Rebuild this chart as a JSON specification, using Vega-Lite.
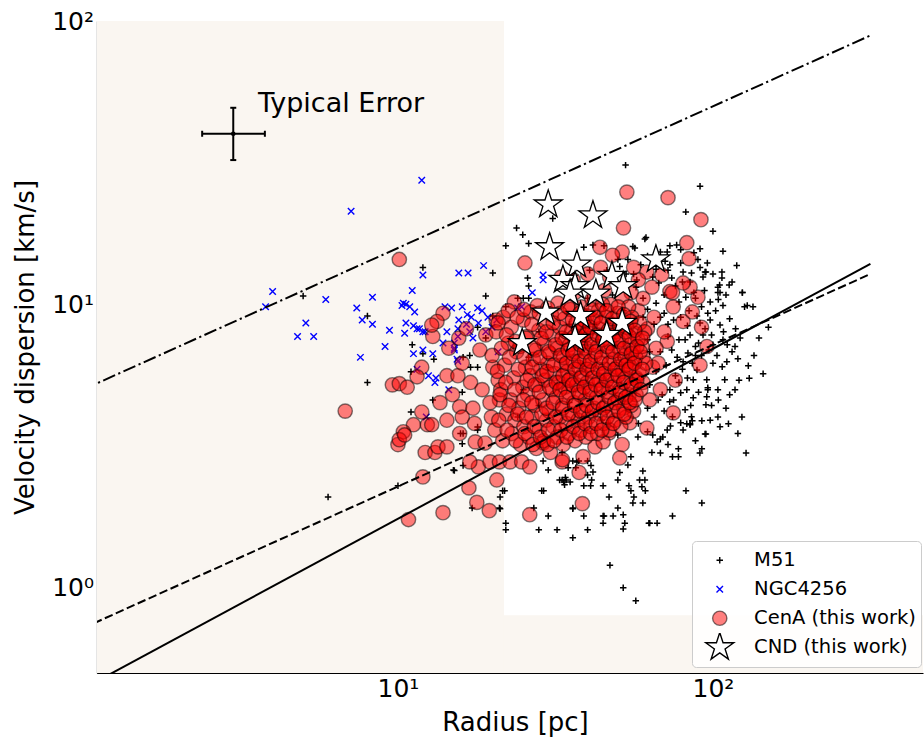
{
"$schema":"https://vega.github.io/schema/vega-lite/v6.json",
"autosize":{"type":"none"},
"width":826,"height":652,
"padding":{"left":97,"top":21,"right":1,"bottom":66},
"config":{"view":{"stroke":null},"font":"DejaVu Sans",
 "axis":{"grid":false,"zindex":1,"domainColor":"black","tickColor":"black","labelColor":"black","titleColor":"black","labelFont":"DejaVu Sans","titleFont":"DejaVu Sans","titleFontWeight":"normal"},
 "legend":{"orient":"none","legendX":595,"legendY":520,"labelFont":"DejaVu Sans","labelFontSize":19.5,"labelColor":"black","padding":5,"symbolOffset":13,"labelOffset":24.6,"rowPadding":0,"clipHeight":28.5,"symbolSize":866,"strokeColor":"#cccccc","fillColor":"rgba(255,255,255,0.85)","cornerRadius":4,"labelLimit":300}},
"datasets":{
"m51":[{"R":103.7,"V":4.0},{"R":123.6,"V":4.0},{"R":112,"V":3.79},{"R":127.4,"V":2.99},{"R":95,"V":3.49},{"R":92.2,"V":3.88},{"R":84.6,"V":3.79},{"R":86,"V":3.88},{"R":82.6,"V":3.79},{"R":80.4,"V":3.6},{"R":73.3,"V":3.72},{"R":71.6,"V":3.6},{"R":68.1,"V":3.35},{"R":66.5,"V":3.27},{"R":68.1,"V":2.99},{"R":74.4,"V":2.9},{"R":77.7,"V":2.9},{"R":77.7,"V":3.09},{"R":90.9,"V":2.99},{"R":92.2,"V":3.09},{"R":82.1,"V":2.2},{"R":92.2,"V":1.99},{"R":74.4,"V":1.79},{"R":62.6,"V":1.69},{"R":66.5,"V":1.69},{"R":59.9,"V":2.58},{"R":60.8,"V":2.4},{"R":58.5,"V":2.4},{"R":59.5,"V":2.27},{"R":61,"V":2.2},{"R":56.1,"V":2.09},{"R":59.9,"V":1.99},{"R":55.7,"V":1.99},{"R":54.9,"V":2.2},{"R":54.1,"V":2.29},{"R":50.6,"V":2.55},{"R":49.9,"V":2.4},{"R":53.7,"V":2.71},{"R":54.9,"V":2.9},{"R":57.8,"V":3.4},{"R":49.9,"V":1.91},{"R":51.9,"V":1.81},{"R":52.5,"V":1.69},{"R":51.9,"V":1.61},{"R":48.2,"V":1.79},{"R":44.8,"V":1.79},{"R":44.8,"V":1.69},{"R":46.8,"V":2.09},{"R":44.8,"V":2.29},{"R":40.9,"V":2.29},{"R":38.9,"V":2.29},{"R":41.2,"V":2.4},{"R":41.6,"V":2.56},{"R":35.9,"V":1.91},{"R":38.9,"V":1.79},{"R":40,"V":1.6},{"R":35.9,"V":1.5},{"R":47.1,"V":1.2},{"R":51.9,"V":1.0},{"R":56.9,"V":0.9},{"R":34.2,"V":2.4},{"R":33.6,"V":2.36},{"R":35.2,"V":2.36},{"R":37,"V":2.78},{"R":36.7,"V":2.65},{"R":34.7,"V":2.65},{"R":28.6,"V":2.2},{"R":30,"V":1.79},{"R":28,"V":1.6},{"R":32,"V":1.6},{"R":27,"V":1.91},{"R":22,"V":1.69},{"R":22,"V":1.6},{"R":21,"V":1.91},{"R":21.5,"V":2.2},{"R":17.2,"V":1.91},{"R":32.6,"V":2.4},{"R":33.8,"V":2.31},{"R":45.1,"V":1.79},{"R":63,"V":1.69},{"R":117.5,"V":5.0},{"R":103.7,"V":5.0},{"R":96.3,"V":5.0},{"R":144.3,"V":5.69},{"R":130.4,"V":5.49},{"R":95.6,"V":4.72},{"R":105.3,"V":3.7},{"R":95,"V":4.42},{"R":129.5,"V":6.07},{"R":120,"V":6.43},{"R":110.7,"V":6.27},{"R":107,"V":6.02},{"R":100,"V":6.2},{"R":117.5,"V":7.1},{"R":107.6,"V":7.5},{"R":105.3,"V":8.45},{"R":94.4,"V":8.2},{"R":128.5,"V":9.9},{"R":134,"V":9.8},{"R":124,"V":11},{"R":105.3,"V":11.0},{"R":107.6,"V":9.9},{"R":96.3,"V":9.3},{"R":91,"V":8.6},{"R":84.6,"V":7.8},{"R":81.6,"V":7.5},{"R":83.3,"V":6.74},{"R":80.4,"V":6.27},{"R":89,"V":5.87},{"R":86.6,"V":5.42},{"R":95.6,"V":5.42},{"R":96.3,"V":5.08},{"R":109,"V":5.42},{"R":82.6,"V":5.0},{"R":79,"V":4.88},{"R":86.6,"V":4.68},{"R":72.9,"V":4.53},{"R":81.6,"V":4.25},{"R":74.4,"V":4.01},{"R":85.5,"V":4.01},{"R":79,"V":3.82},{"R":94.4,"V":3.49},{"R":84.6,"V":3.76},{"R":69.3,"V":3.4},{"R":64.4,"V":3.46},{"R":62,"V":3.55},{"R":46.4,"V":3.82},{"R":44.4,"V":3.91},{"R":49.9,"V":3.46},{"R":105,"V":11.7},{"R":112.6,"V":11.7},
{"R":52.8,"V":31},{"R":91,"V":26.1},{"R":82,"V":21.2},{"R":100,"V":18.1},{"R":107.6,"V":15.4},{"R":61.3,"V":17.2},{"R":119,"V":13.7},{"R":91,"V":15.7},{"R":95,"V":13.0},{"R":91,"V":13.5},{"R":73,"V":16.1},{"R":76.7,"V":16.2},{"R":71.6,"V":15.3},{"R":56.5,"V":15.8},{"R":73,"V":13.8},{"R":72,"V":13.2},{"R":93,"V":12.5},{"R":106.8,"V":13},{"R":106.8,"V":12.4},{"R":124,"V":11.0},{"R":103.7,"V":11.5},{"R":103.7,"V":11.0},{"R":126,"V":9.8},{"R":85.5,"V":12.9},{"R":84.6,"V":12},{"R":80,"V":12},{"R":67.3,"V":11.9},{"R":64.4,"V":12.5},{"R":49.9,"V":14.4},{"R":50.6,"V":13.6},{"R":55.7,"V":16},{"R":23.8,"V":18.6},{"R":24.9,"V":17.6},{"R":26,"V":16.4},{"R":22,"V":16.1},{"R":20,"V":12.9},{"R":19,"V":10.7},{"R":22,"V":9.8},{"R":24,"V":10.5},{"R":25,"V":10.5},{"R":26,"V":10.5},{"R":25.8,"V":12.4},{"R":26,"V":11.6},{"R":31,"V":20.1},{"R":38.9,"V":15.9},{"R":41.6,"V":16.2},{"R":45.1,"V":16.1},{"R":60.8,"V":17.0},{"R":53.7,"V":14.4},{"R":68.1,"V":15.3},{"R":70.5,"V":14.2},{"R":79,"V":14.0},{"R":80.4,"V":13.0},{"R":89.6,"V":14.4},{"R":94.4,"V":13.0},{"R":38,"V":13.7},{"R":40.6,"V":13.2},{"R":35.9,"V":12.9},{"R":57.3,"V":12.2},
{"R":6.0,"V":2.09},{"R":8.0,"V":5.3},{"R":11.0,"V":4.17},{"R":10,"V":2.29},{"R":12.9,"V":4.6},{"R":15.0,"V":2.6},{"R":11,"V":5.78},{"R":15.1,"V":2.59},{"R":16.0,"V":3.22},{"R":16.1,"V":2.7},{"R":15.8,"V":3.5},{"R":17.9,"V":3.69},{"R":21.8,"V":2.2},{"R":21.1,"V":2.09},{"R":21.1,"V":1.9},{"R":35.9,"V":1.9},{"R":29,"V":2.2},{"R":33.2,"V":2.4},{"R":34,"V":2.45},{"R":33.2,"V":3.0},{"R":28.9,"V":2.8},{"R":30,"V":2.6},{"R":35.9,"V":2.8},{"R":37.5,"V":2.8},{"R":40,"V":2.8},{"R":41,"V":2.7},{"R":40,"V":2.5},{"R":5.0,"V":10.7},{"R":8.0,"V":9.1},{"R":11.1,"V":7.2},{"R":12.0,"V":6.7},{"R":13.0,"V":6.4},{"R":12.0,"V":13.5},{"R":17.9,"V":8.3},{"R":19,"V":7.6},{"R":20,"V":9.1},{"R":16.1,"V":6.5},{"R":16.9,"V":6.6},{"R":17,"V":6.0},{"R":17.9,"V":6.0},{"R":16,"V":4.9},{"R":16.1,"V":3.5},{"R":17.9,"V":3.6},
{"R":25,"V":5},{"R":30,"V":6},{"R":35,"V":4.5},{"R":40,"V":7},{"R":45,"V":5.5},{"R":50,"V":6.5},{"R":55,"V":8},{"R":60,"V":9},{"R":28,"V":8},{"R":33,"V":3.6},{"R":62,"V":7.5},{"R":65,"V":8.5},{"R":68,"V":6.8},{"R":70,"V":9.3},{"R":72,"V":7.7},{"R":75,"V":8.8},{"R":77,"V":6.5},{"R":66,"V":5.8},{"R":63,"V":5.2},{"R":69,"V":4.8},{"R":76,"V":5.6},{"R":78,"V":10.2},{"R":88,"V":10.5},{"R":84,"V":9.5},{"R":99,"V":7.8},{"R":102,"V":9.5},{"R":113,"V":8.9},{"R":115,"V":6.8},{"R":92,"V":6.6},{"R":88,"V":7.1},{"R":60,"V":10.5},{"R":57,"V":11.5},{"R":45,"V":9.8},{"R":48,"V":10.8},{"R":52,"V":9.5},{"R":42,"V":8.5},{"R":38,"V":6.2},{"R":32,"V":5.2},{"R":28,"V":4.4},{"R":26,"V":6.5},{"R":24,"V":4.0},{"R":44,"V":4.2},{"R":50,"V":4.6},{"R":55,"V":5.3},{"R":58,"V":6.1},{"R":35,"V":8.5},{"R":30,"V":9.8},{"R":40,"V":10.5},{"R":46,"V":13.2},{"R":53,"V":12.8},
{"R":58,"V":3.8},{"R":62,"V":4.3},{"R":65,"V":4.0},{"R":67,"V":4.6},{"R":70,"V":4.2},{"R":73,"V":5.0},{"R":75,"V":4.6},{"R":78,"V":5.3},{"R":80,"V":5.9},{"R":83,"V":5.5},{"R":86,"V":6.2},{"R":88,"V":6.6},{"R":90,"V":7.3},{"R":93,"V":7.8},{"R":97,"V":6.9},{"R":100,"V":7.2},{"R":103,"V":6.6},{"R":108,"V":8.0},{"R":111,"V":7.2},{"R":118,"V":8.2},{"R":122,"V":7.6},{"R":98,"V":10.2},{"R":94,"V":11.2},{"R":87,"V":11.0},{"R":82,"V":10.6},{"R":76,"V":11.6},{"R":70,"V":10.8},{"R":66,"V":10.1},{"R":62,"V":9.6},{"R":68,"V":9.0},{"R":72,"V":8.5},{"R":79,"V":9.0},{"R":83,"V":8.4},{"R":89,"V":9.1},{"R":92,"V":9.8},{"R":98,"V":8.8},{"R":104,"V":10.4},{"R":110,"V":10.8},{"R":115,"V":12.0},{"R":100,"V":12.8},{"R":96,"V":14.0},{"R":87,"V":15.2},{"R":79,"V":15.6},{"R":67,"V":14.0},{"R":62,"V":14.8},{"R":74,"V":12.4},{"R":66,"V":13.3},{"R":59,"V":13.8},{"R":56,"V":12.8},{"R":63,"V":6.8},{"R":71,"V":6.1},{"R":74,"V":6.9},{"R":78,"V":7.5},{"R":85,"V":4.4},{"R":90,"V":4.9},{"R":99,"V":4.4},{"R":104,"V":4.6},{"R":113,"V":4.8},{"R":121,"V":5.4},{"R":135,"V":6.6},{"R":140,"V":7.6},{"R":150,"V":8.3},{"R":64,"V":3.0},{"R":72,"V":3.2},{"R":88,"V":3.3},{"R":98,"V":3.9},{"R":110,"V":4.3},{"R":120,"V":3.5}],
"ngc":[{"R":11.9,"V":27.4},{"R":7.1,"V":21.3},{"R":4.0,"V":11.1},{"R":3.8,"V":9.8},{"R":5.1,"V":8.6},{"R":4.8,"V":7.7},{"R":5.4,"V":7.7},{"R":5.9,"V":10.4},{"R":7.4,"V":9.7},{"R":7.7,"V":8.8},{"R":8.3,"V":10.6},{"R":8.3,"V":8.5},{"R":9.4,"V":8.1},{"R":9.1,"V":7.1},{"R":7.6,"V":6.5},{"R":10.3,"V":9.9},{"R":10.6,"V":10.0},{"R":11.3,"V":9.4},{"R":11.1,"V":11.2},{"R":12.0,"V":12.7},{"R":10.6,"V":8.6},{"R":10.5,"V":7.9},{"R":11.2,"V":8.4},{"R":11.5,"V":8.2},{"R":11.2,"V":6.7},{"R":12.0,"V":6.9},{"R":12.9,"V":6.7},{"R":12.0,"V":8.0},{"R":14.1,"V":9.8},{"R":14.8,"V":9.7},{"R":14.3,"V":8.0},{"R":15.1,"V":7.3},{"R":15.1,"V":6.9},{"R":15.5,"V":6.3},{"R":16.7,"V":12.9},{"R":18.7,"V":13.7},{"R":10.4,"V":10.1},{"R":10.9,"V":9.8},{"R":11.7,"V":8.2},{"R":12.2,"V":8.0},{"R":13.1,"V":5.3},{"R":16.0,"V":9.8},{"R":15.5,"V":8.2},{"R":15.1,"V":7.0},{"R":15.4,"V":6.4},{"R":15.6,"V":8.8},{"R":17.1,"V":9.0},{"R":16.6,"V":9.2},{"R":17.9,"V":9.7},{"R":18.5,"V":9.5},{"R":19.3,"V":9.0},{"R":20.6,"V":8.8},{"R":19.9,"V":8.3},{"R":16.9,"V":8.0},{"R":17.3,"V":7.6},{"R":20.8,"V":6.8},{"R":24,"V":9.7},{"R":13.9,"V":7.3},{"R":15.5,"V":7.7},{"R":15.6,"V":12.9},{"R":28.9,"V":12.7},{"R":28.9,"V":12.2},{"R":26.7,"V":11.0},{"R":24.7,"V":9.8},{"R":18,"V":8.6},{"R":19,"V":8.0},{"R":16.5,"V":8.5},{"R":12.5,"V":5.6},{"R":13.2,"V":5.5},{"R":12.3,"V":4.0},{"R":11.5,"V":5.9},{"R":14.5,"V":5.0}],
"cena":[{"R":6.8,"V":4.2},{"R":9.6,"V":5.2},{"R":10.1,"V":5.25},{"R":10.7,"V":5.1},{"R":11.9,"V":6.0},{"R":11.5,"V":5.55},{"R":13.9,"V":9.3},{"R":13.3,"V":8.7},{"R":12.9,"V":7.7},{"R":12.8,"V":8.45},{"R":15.6,"V":7.6},{"R":14.3,"V":5.6},{"R":15.5,"V":5.6},{"R":18.2,"V":6.9},{"R":13.6,"V":4.5},{"R":14.9,"V":4.8},{"R":15.7,"V":4.35},{"R":17.3,"V":4.3},{"R":11.2,"V":3.76},{"R":10.4,"V":3.55},{"R":12.4,"V":3.76},{"R":11.9,"V":4.17},{"R":10.0,"V":3.2},{"R":10.1,"V":3.33},{"R":10.5,"V":3.46},{"R":12.2,"V":3.0},{"R":13.1,"V":3.0},{"R":13.4,"V":3.14},{"R":14.3,"V":3.14},{"R":12.8,"V":3.76},{"R":14.3,"V":3.9},{"R":12.0,"V":2.46},{"R":10.8,"V":1.74},{"R":13.9,"V":1.84},{"R":16.8,"V":2.25},{"R":17.8,"V":2.0},{"R":19.5,"V":1.87},{"R":20.6,"V":2.4},{"R":18.0,"V":2.67},{"R":16.9,"V":2.78},{"R":15.7,"V":3.5},{"R":17.6,"V":3.27},{"R":18.9,"V":3.24},{"R":19.6,"V":2.78},{"R":21.0,"V":2.78},{"R":22.7,"V":2.78},{"R":24.7,"V":2.78},{"R":26.2,"V":2.67},{"R":26.2,"V":1.81},{"R":33.2,"V":2.78},{"R":37.6,"V":2.55},{"R":38.5,"V":1.98},{"R":28.9,"V":3.24},{"R":74.8,"V":4.14},{"R":61.7,"V":3.66},{"R":46.8,"V":3.52},{"R":51.5,"V":3.2},{"R":50.6,"V":2.87},{"R":42.2,"V":3.14},{"R":38.7,"V":2.9},{"R":33.3,"V":2.83},{"R":44.8,"V":3.27},{"R":54.5,"V":3.82},{"R":95.7,"V":7.1},{"R":91.0,"V":6.1},{"R":80.4,"V":8.7},{"R":75.9,"V":5.4},{"R":68.1,"V":5.0},{"R":64.4,"V":6.0},{"R":89.6,"V":10.6},{"R":84.6,"V":11.5},{"R":73.0,"V":11.1},{"R":74.8,"V":9.8},{"R":71.6,"V":7.4},{"R":53.3,"V":24.9},{"R":72.0,"V":23.8},{"R":91.6,"V":19.9},{"R":52.0,"V":18.6},{"R":82.6,"V":16.5},{"R":84.0,"V":14.5},{"R":25.3,"V":14.0},{"R":43.8,"V":15.9},{"R":51.5,"V":15.3},{"R":48.0,"V":14.9},{"R":10.1,"V":14.4},{"R":61.7,"V":13.0},{"R":68.8,"V":12.7},{"R":80.4,"V":11.9},{"R":74.4,"V":11.0},{"R":14.5,"V":7.0},{"R":16.0,"V":6.2},{"R":16.5,"V":8.2},{"R":17.0,"V":5.3},{"R":18.5,"V":5.0},{"R":19.0,"V":7.8},{"R":20.0,"V":6.0},{"R":20.5,"V":8.8},{"R":21.0,"V":4.6},{"R":19.8,"V":4.0},{"R":17.5,"V":3.8},{"R":16.0,"V":4.0},{"R":58,"V":9.5},{"R":62,"V":8.2},{"R":66,"V":7.0},{"R":60,"V":6.5},{"R":57,"V":5.5},{"R":63,"V":4.6},{"R":56,"V":4.2},{"R":60,"V":10.5},{"R":65,"V":9.0},{"R":70,"V":8.0},{"R":67,"V":6.2},{"R":55,"V":11},{"R":58,"V":12.2},{"R":64,"V":11.5},{"R":47,"V":12.5},{"R":44,"V":13.5},{"R":40,"V":12.8},{"R":36,"V":12.2},{"R":33,"V":12.5},{"R":56,"V":13.5},{"R":92,"V":8.3},{"R":86,"V":9.4},
{"R":20.3,"V":3.6},{"R":19.6,"V":4.5},{"R":20.8,"V":5.4},{"R":19.9,"V":6.6},{"R":20.5,"V":8.0},{"R":21.5,"V":3.3},{"R":22.1,"V":4.1},{"R":21.2,"V":5.0},{"R":21.8,"V":6.1},{"R":22.4,"V":7.3},{"R":21.6,"V":9.0},{"R":23.0,"V":3.5},{"R":23.5,"V":3.9},{"R":22.8,"V":4.6},{"R":23.3,"V":5.5},{"R":23.8,"V":6.8},{"R":22.9,"V":8.3},{"R":23.4,"V":10.2},{"R":24.5,"V":3.2},{"R":25.1,"V":3.7},{"R":24.2,"V":4.3},{"R":24.9,"V":5.1},{"R":25.4,"V":6.0},{"R":24.4,"V":7.1},{"R":25.0,"V":8.8},{"R":26.0,"V":3.4},{"R":26.6,"V":4.0},{"R":25.8,"V":4.8},{"R":26.3,"V":5.6},{"R":26.9,"V":6.4},{"R":25.7,"V":7.7},{"R":26.4,"V":9.4},{"R":27.5,"V":3.1},{"R":28.1,"V":3.6},{"R":27.2,"V":4.4},{"R":27.8,"V":5.2},{"R":28.4,"V":5.9},{"R":27.4,"V":6.9},{"R":28.0,"V":8.1},{"R":27.7,"V":9.9},{"R":29.0,"V":3.3},{"R":29.6,"V":3.9},{"R":28.8,"V":4.6},{"R":29.3,"V":5.4},{"R":29.9,"V":6.2},{"R":29.1,"V":7.3},{"R":29.5,"V":8.6},{"R":30.5,"V":3.0},{"R":31.2,"V":3.7},{"R":30.2,"V":4.2},{"R":30.9,"V":5.0},{"R":31.5,"V":5.7},{"R":30.4,"V":6.7},{"R":31.0,"V":7.8},{"R":30.7,"V":9.2},{"R":32.0,"V":3.4},{"R":32.7,"V":4.0},{"R":31.8,"V":4.7},{"R":32.4,"V":5.3},{"R":33.0,"V":6.1},{"R":32.1,"V":7.0},{"R":32.6,"V":8.3},{"R":32.2,"V":10.1},{"R":33.5,"V":3.2},{"R":34.2,"V":3.8},{"R":33.3,"V":4.4},{"R":33.9,"V":5.1},{"R":34.5,"V":5.8},{"R":33.6,"V":6.5},{"R":34.1,"V":7.5},{"R":33.8,"V":8.9},{"R":35.0,"V":3.5},{"R":35.8,"V":4.1},{"R":34.8,"V":4.9},{"R":35.4,"V":5.5},{"R":36.0,"V":6.3},{"R":35.1,"V":7.2},{"R":35.6,"V":8.0},{"R":35.3,"V":9.6},{"R":36.5,"V":3.3},{"R":37.3,"V":3.9},{"R":36.2,"V":4.5},{"R":36.9,"V":5.2},{"R":37.5,"V":6.0},{"R":36.6,"V":6.8},{"R":37.1,"V":7.7},{"R":36.8,"V":8.6},{"R":36.4,"V":11.0},{"R":38.0,"V":3.6},{"R":38.8,"V":4.2},{"R":37.8,"V":4.8},{"R":38.4,"V":5.6},{"R":39.1,"V":6.4},{"R":38.1,"V":7.4},{"R":38.6,"V":8.4},{"R":38.3,"V":9.8},{"R":39.5,"V":3.4},{"R":40.3,"V":4.0},{"R":39.3,"V":4.6},{"R":39.9,"V":5.3},{"R":40.6,"V":6.1},{"R":39.6,"V":7.0},{"R":40.1,"V":8.1},{"R":39.8,"V":9.1},{"R":41.0,"V":3.7},{"R":41.9,"V":4.3},{"R":40.8,"V":5.0},{"R":41.5,"V":5.8},{"R":42.2,"V":6.6},{"R":41.1,"V":7.6},{"R":41.7,"V":8.8},{"R":41.3,"V":10.4},{"R":43.0,"V":3.5},{"R":43.9,"V":4.1},{"R":42.7,"V":4.7},{"R":43.5,"V":5.4},{"R":44.2,"V":6.2},{"R":43.1,"V":7.1},{"R":43.7,"V":8.2},{"R":43.3,"V":9.5},{"R":45.0,"V":3.8},{"R":45.9,"V":4.4},{"R":44.7,"V":5.1},{"R":45.5,"V":5.9},{"R":46.3,"V":6.8},{"R":45.1,"V":7.8},{"R":45.8,"V":9.0},{"R":45.3,"V":11.2},{"R":47.0,"V":3.6},{"R":48.0,"V":4.2},{"R":46.7,"V":4.9},{"R":47.6,"V":5.6},{"R":48.4,"V":6.4},{"R":47.1,"V":7.3},{"R":47.8,"V":8.5},{"R":47.4,"V":10.0},{"R":49.0,"V":3.9},{"R":50.0,"V":4.6},{"R":48.7,"V":5.3},{"R":49.6,"V":6.0},{"R":50.4,"V":7.0},{"R":49.2,"V":8.0},{"R":49.9,"V":9.3},{"R":51.0,"V":3.7},{"R":52.1,"V":4.3},{"R":50.7,"V":5.0},{"R":51.7,"V":5.8},{"R":52.5,"V":6.6},{"R":51.2,"V":7.5},{"R":51.9,"V":8.7},{"R":51.5,"V":10.6},{"R":53.0,"V":4.0},{"R":54.2,"V":4.8},{"R":52.8,"V":5.5},{"R":53.8,"V":6.3},{"R":54.6,"V":7.2},{"R":53.3,"V":8.3},{"R":54.0,"V":9.8},{"R":55.0,"V":4.4},{"R":56.2,"V":5.2},{"R":54.8,"V":6.0},{"R":55.8,"V":6.9},{"R":56.5,"V":7.9},{"R":55.3,"V":9.0},{"R":57.0,"V":4.8},{"R":58.3,"V":5.7},{"R":56.9,"V":6.5},{"R":57.8,"V":7.5},{"R":58.6,"V":8.6},{"R":60.0,"V":5.3},{"R":61.2,"V":6.2},{"R":59.6,"V":7.1},{"R":60.7,"V":8.0},
{"R":20.9,"V":3.9},{"R":21.1,"V":4.8},{"R":20.7,"V":5.8},{"R":21.3,"V":7.0},{"R":20.8,"V":8.6},{"R":22.2,"V":3.6},{"R":22.5,"V":4.4},{"R":22.0,"V":5.3},{"R":22.6,"V":6.5},{"R":22.1,"V":7.8},{"R":22.4,"V":9.5},{"R":23.7,"V":3.3},{"R":24.0,"V":4.1},{"R":23.5,"V":5.0},{"R":24.1,"V":5.9},{"R":23.6,"V":7.4},{"R":23.9,"V":9.0},{"R":25.3,"V":3.5},{"R":25.6,"V":4.0},{"R":25.0,"V":4.6},{"R":25.7,"V":5.4},{"R":25.2,"V":6.5},{"R":25.5,"V":7.6},{"R":25.1,"V":9.6},{"R":26.8,"V":3.2},{"R":27.1,"V":3.7},{"R":26.6,"V":4.5},{"R":27.2,"V":5.2},{"R":26.7,"V":6.0},{"R":27.0,"V":7.0},{"R":26.6,"V":8.5},{"R":28.3,"V":3.4},{"R":28.6,"V":4.1},{"R":28.1,"V":4.9},{"R":28.7,"V":5.6},{"R":28.2,"V":6.5},{"R":28.5,"V":7.6},{"R":28.1,"V":9.3},{"R":29.8,"V":3.2},{"R":30.1,"V":3.6},{"R":29.6,"V":4.3},{"R":30.3,"V":5.1},{"R":29.7,"V":5.8},{"R":30.0,"V":6.8},{"R":29.6,"V":8.0},{"R":29.9,"V":9.7},{"R":31.3,"V":3.3},{"R":31.7,"V":4.0},{"R":31.1,"V":4.5},{"R":31.8,"V":5.3},{"R":31.2,"V":6.1},{"R":31.6,"V":7.2},{"R":31.1,"V":8.6},{"R":32.9,"V":3.6},{"R":33.3,"V":4.3},{"R":32.7,"V":5.0},{"R":33.4,"V":5.6},{"R":32.8,"V":6.6},{"R":33.2,"V":7.6},{"R":32.7,"V":9.3},{"R":34.4,"V":3.4},{"R":34.8,"V":4.1},{"R":34.2,"V":4.7},{"R":34.9,"V":5.4},{"R":34.3,"V":6.2},{"R":34.7,"V":6.9},{"R":34.2,"V":8.0},{"R":34.6,"V":9.8},{"R":36.0,"V":3.7},{"R":36.4,"V":4.4},{"R":35.8,"V":5.2},{"R":36.5,"V":5.9},{"R":35.9,"V":6.7},{"R":36.3,"V":7.7},{"R":35.8,"V":8.8},{"R":37.6,"V":3.5},{"R":38.0,"V":4.2},{"R":37.4,"V":4.9},{"R":38.1,"V":5.5},{"R":37.5,"V":6.3},{"R":37.9,"V":7.2},{"R":37.4,"V":8.2},{"R":37.8,"V":9.3},{"R":39.2,"V":3.8},{"R":39.7,"V":4.4},{"R":39.0,"V":5.1},{"R":39.8,"V":5.9},{"R":39.1,"V":6.8},{"R":39.5,"V":7.8},{"R":39.0,"V":8.8},{"R":40.9,"V":3.5},{"R":41.4,"V":4.2},{"R":40.7,"V":4.9},{"R":41.5,"V":5.5},{"R":40.8,"V":6.3},{"R":41.2,"V":7.2},{"R":40.7,"V":8.3},{"R":41.1,"V":9.6},{"R":42.6,"V":3.8},{"R":43.1,"V":4.5},{"R":42.4,"V":5.2},{"R":43.2,"V":5.9},{"R":42.5,"V":6.8},{"R":42.9,"V":7.8},{"R":42.4,"V":9.0},{"R":44.4,"V":3.6},{"R":44.9,"V":4.3},{"R":44.2,"V":5.0},{"R":45.0,"V":5.7},{"R":44.3,"V":6.5},{"R":44.7,"V":7.5},{"R":44.2,"V":8.6},{"R":44.6,"V":10.0},{"R":46.2,"V":4.0},{"R":46.8,"V":4.7},{"R":46.0,"V":5.4},{"R":46.9,"V":6.2},{"R":46.1,"V":7.1},{"R":46.6,"V":8.1},{"R":46.0,"V":9.5},{"R":48.2,"V":3.8},{"R":48.8,"V":4.5},{"R":48.0,"V":5.1},{"R":48.9,"V":5.9},{"R":48.1,"V":6.8},{"R":48.6,"V":7.8},{"R":48.0,"V":8.9},{"R":50.2,"V":4.2},{"R":50.8,"V":4.9},{"R":50.0,"V":5.6},{"R":50.9,"V":6.4},{"R":50.1,"V":7.4},{"R":50.6,"V":8.4},{"R":50.0,"V":9.8},{"R":52.3,"V":4.1},{"R":52.9,"V":4.7},{"R":52.1,"V":5.3},{"R":53.0,"V":6.1},{"R":52.2,"V":7.0},{"R":52.7,"V":8.0},{"R":52.1,"V":9.2},{"R":54.4,"V":4.5},{"R":55.0,"V":5.2},{"R":54.2,"V":5.9},{"R":55.1,"V":6.7},{"R":54.3,"V":7.7},{"R":54.8,"V":8.7},{"R":56.6,"V":4.6},{"R":57.3,"V":5.4},{"R":56.4,"V":6.2},{"R":57.4,"V":7.1},{"R":56.5,"V":8.1},{"R":59.0,"V":5.0},{"R":59.7,"V":5.9},{"R":58.8,"V":6.8},{"R":59.8,"V":7.6}],
"cnd":[{"R":30,"V":22.5},{"R":41.6,"V":20.6},{"R":30.3,"V":15.9},{"R":37,"V":13.8},{"R":65.9,"V":14.4},{"R":33.4,"V":12.2},{"R":36.5,"V":11.6},{"R":47.8,"V":12.6},{"R":51.9,"V":11.6},{"R":35.2,"V":10.9},{"R":42.5,"V":10.9},{"R":29.5,"V":9.35},{"R":38,"V":9.1},{"R":51.5,"V":8.6},{"R":46,"V":7.8},{"R":36.5,"V":7.55},{"R":24.8,"V":7.3}]
},
"layer":[
{"data":{"values":[{"R1":1,"R2":21.7,"V1":0.3,"V2":300},{"R1":21.7,"R2":2000,"V1":0.3,"V2":0.8}]},
 "mark":{"type":"rect","color":"#faf6f1","clip":true},
 "encoding":{
  "x":{"field":"R1","type":"quantitative","title":"Radius [pc]",
   "scale":{"type":"log","domain":[1.108,464.4],"nice":false,"zero":false},
   "axis":{"values":[2,3,4,5,6,7,8,9,10,20,30,40,50,60,70,80,90,100,200,300,400],
    "labelExpr":"datum.value == 10 ? '10¹' : (datum.value == 100 ? '10²' : '')",
    "tickSize":{"condition":{"test":"datum.value == 10 || datum.value == 100","value":-7},"value":-3.5},
    "tickWidth":1,"domainWidth":1.2,"labelFontSize":25,"labelPadding":10.5,"labelOverlap":false,"labelFlush":false,"labelBound":false,
    "titleFontSize":26,"titleX":418,"titleY":57,"titleBaseline":"alphabetic","titleAlign":"center"}},
  "x2":{"field":"R2"},
  "y":{"field":"V1","type":"quantitative","title":"Velocity dispersion [km/s]",
   "scale":{"type":"log","domain":[0.5,100],"nice":false,"zero":false},
   "axis":{"values":[0.5,0.6,0.7,0.8,0.9,1,2,3,4,5,6,7,8,9,10,20,30,40,50,60,70,80,90,100],
    "labelExpr":"datum.value == 1 ? '10⁰' : (datum.value == 10 ? '10¹' : (datum.value == 100 ? '10²' : ''))",
    "tickSize":{"condition":{"test":"datum.value == 1 || datum.value == 10 || datum.value == 100","value":-7},"value":-3.5},
    "tickWidth":1,"domainWidth":1.2,"labelFontSize":25,"labelPadding":10.5,"labelOverlap":false,"labelFlush":false,"labelBound":false,
    "titleFontSize":26,"titleX":-64,"titleY":326,"titleBaseline":"alphabetic","titleAlign":"center","titleAngle":-90}},
  "y2":{"field":"V2"}}},
{"mark":{"type":"rule","color":"black","strokeWidth":1.2},"encoding":{"y":{"datum":100}}},
{"data":{"name":"m51"},
 "mark":{"type":"point","opacity":1,"clip":true,"fill":"transparent","stroke":"#000000","strokeWidth":1.5,"size":42},
 "encoding":{
  "x":{"field":"R","type":"quantitative","title":"Radius [pc]"},
  "y":{"field":"V","type":"quantitative","title":"Velocity dispersion [km/s]"},
  "shape":{"datum":"M51","type":"nominal","scale":{"domain":["M51","NGC4256","CenA (this work)","CND (this work)"],"range":["M-1,0L1,0M0,-1L0,1","M-1,-1L1,1M-1,1L1,-1","circle","M0,-1L0.2245,-0.309L0.951,-0.309L0.363,0.118L0.588,0.809L0,0.382L-0.588,0.809L-0.363,0.118L-0.951,-0.309L-0.2245,-0.309Z"]},
   "legend":{"title":null,"encoding":{"symbols":{
    "fill":{"value":{"expr":"datum.value == 'CenA (this work)' ? 'rgba(255,0,0,0.5)' : (datum.value == 'CND (this work)' ? '#ffffff' : 'transparent')"}},
    "stroke":{"value":{"expr":"datum.value == 'NGC4256' ? '#0000ff' : (datum.value == 'CenA (this work)' ? 'rgba(0,0,0,0.5)' : '#000000')"}},
    "size":{"value":{"expr":"datum.value == 'CenA (this work)' ? 205 : (datum.value == 'CND (this work)' ? 866 : 42)"}},
    "strokeWidth":{"value":1.4},"opacity":{"value":1}}}}}}},
{"data":{"name":"ngc"},
 "mark":{"type":"point","opacity":1,"clip":true,"fill":"transparent","stroke":"#0000ff","strokeWidth":1.4,"size":42},
 "encoding":{
  "x":{"field":"R","type":"quantitative","title":"Radius [pc]"},
  "y":{"field":"V","type":"quantitative","title":"Velocity dispersion [km/s]"},
  "shape":{"datum":"NGC4256","type":"nominal"}}},
{"data":{"name":"cena"},
 "mark":{"type":"point","opacity":1,"clip":true,"fill":"rgba(255,0,0,0.5)","stroke":"rgba(0,0,0,0.5)","strokeWidth":1.4,"size":205},
 "encoding":{
  "x":{"field":"R","type":"quantitative","title":"Radius [pc]"},
  "y":{"field":"V","type":"quantitative","title":"Velocity dispersion [km/s]"},
  "shape":{"datum":"CenA (this work)","type":"nominal"}}},
{"data":{"name":"cnd"},
 "mark":{"type":"point","opacity":1,"clip":true,"fill":"#ffffff","stroke":"#000000","strokeWidth":1.3,"size":866},
 "encoding":{
  "x":{"field":"R","type":"quantitative","title":"Radius [pc]"},
  "y":{"field":"V","type":"quantitative","title":"Velocity dispersion [km/s]"},
  "shape":{"datum":"CND (this work)","type":"nominal"}}},
{"data":{"values":[{"R":1,"V":5},{"R":316.2,"V":88.9}]},
 "mark":{"type":"line","color":"black","strokeWidth":2,"strokeDash":[13,3.5,2.2,3.5],"clip":true},
 "encoding":{"x":{"field":"R","type":"quantitative","title":"Radius [pc]"},"y":{"field":"V","type":"quantitative","title":"Velocity dispersion [km/s]"}}},
{"data":{"values":[{"R":1,"V":0.72},{"R":316.2,"V":12.8}]},
 "mark":{"type":"line","color":"black","strokeWidth":2,"strokeDash":[8.5,3.5],"clip":true},
 "encoding":{"x":{"field":"R","type":"quantitative","title":"Radius [pc]"},"y":{"field":"V","type":"quantitative","title":"Velocity dispersion [km/s]"}}},
{"data":{"values":[{"R":1,"V":0.44},{"R":316.2,"V":13.9}]},
 "mark":{"type":"line","color":"black","strokeWidth":2,"clip":true},
 "encoding":{"x":{"field":"R","type":"quantitative","title":"Radius [pc]"},"y":{"field":"V","type":"quantitative","title":"Velocity dispersion [km/s]"}}},
{"data":{"values":[{"R":3.0,"V":40,"Rlo":2.39,"Rhi":3.78,"Vlo":32.3,"Vhi":49.4}]},
 "layer":[
  {"mark":{"type":"rule","color":"black","strokeWidth":2},"encoding":{"x":{"field":"Rlo","type":"quantitative","title":"Radius [pc]"},"x2":{"field":"Rhi"},"y":{"field":"V","type":"quantitative","title":"Velocity dispersion [km/s]"}}},
  {"mark":{"type":"rule","color":"black","strokeWidth":2},"encoding":{"x":{"field":"R","type":"quantitative","title":"Radius [pc]"},"y":{"field":"Vlo","type":"quantitative","title":"Velocity dispersion [km/s]"},"y2":{"field":"Vhi"}}},
  {"mark":{"type":"tick","orient":"vertical","color":"black","opacity":1,"size":6,"thickness":2},"encoding":{"x":{"field":"Rlo","type":"quantitative","title":"Radius [pc]"},"y":{"field":"V","type":"quantitative","title":"Velocity dispersion [km/s]"}}},
  {"mark":{"type":"tick","orient":"vertical","color":"black","opacity":1,"size":6,"thickness":2},"encoding":{"x":{"field":"Rhi","type":"quantitative","title":"Radius [pc]"},"y":{"field":"V","type":"quantitative","title":"Velocity dispersion [km/s]"}}},
  {"mark":{"type":"tick","orient":"horizontal","color":"black","opacity":1,"size":6,"thickness":2},"encoding":{"x":{"field":"R","type":"quantitative","title":"Radius [pc]"},"y":{"field":"Vlo","type":"quantitative","title":"Velocity dispersion [km/s]"}}},
  {"mark":{"type":"tick","orient":"horizontal","color":"black","opacity":1,"size":6,"thickness":2},"encoding":{"x":{"field":"R","type":"quantitative","title":"Radius [pc]"},"y":{"field":"Vhi","type":"quantitative","title":"Velocity dispersion [km/s]"}}},
  {"mark":{"type":"circle","color":"black","opacity":1,"size":22},"encoding":{"x":{"field":"R","type":"quantitative","title":"Radius [pc]"},"y":{"field":"V","type":"quantitative","title":"Velocity dispersion [km/s]"}}}
 ]},
{"data":{"values":[{"R":3.594,"V":47.86,"label":"Typical Error"}]},
 "mark":{"type":"text","align":"left","baseline":"alphabetic","fontSize":27,"font":"DejaVu Sans","color":"black"},
 "encoding":{"x":{"field":"R","type":"quantitative","title":"Radius [pc]"},"y":{"field":"V","type":"quantitative","title":"Velocity dispersion [km/s]"},"text":{"field":"label"}}}
]
}
